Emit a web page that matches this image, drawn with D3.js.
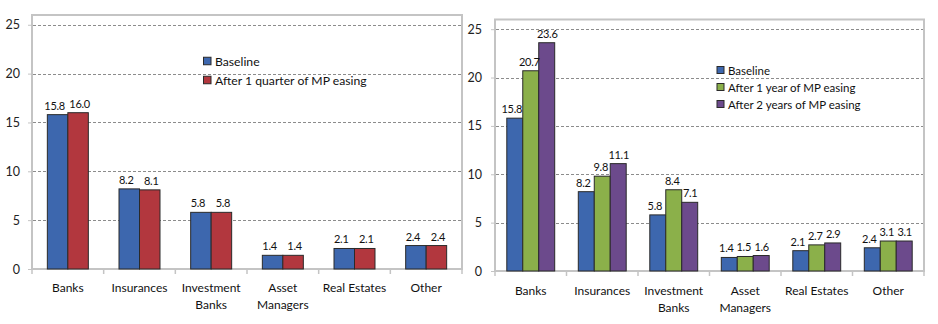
<!DOCTYPE html>
<html>
<head>
<meta charset="utf-8">
<script src="https://cdn.jsdelivr.net/npm/d3@7"></script>
<style>
  html, body { margin: 0; padding: 0; background: #fff; }
  svg { display: block; font-family: Lato, "Liberation Sans", sans-serif; }
</style>
</head>
<body>
<svg id="chart" width="938" height="324"></svg>
<script>
// ---- data ----
const categories = ["Banks", "Insurances", "Investment Banks", "Asset Managers", "Real Estates", "Other"];
const categoryLines = [["Banks"], ["Insurances"], ["Investment", "Banks"], ["Asset", "Managers"], ["Real Estates"], ["Other"]];
const yTicks = [0, 5, 10, 15, 20, 25];

const leftSeriesNames = ["Baseline", "After 1 quarter of MP easing"];
const leftBaseline = [15.8, 8.2, 5.8, 1.4, 2.1, 2.4];
const leftAfter1Quarter = [16.0, 8.1, 5.8, 1.4, 2.1, 2.4];

const rightSeriesNames = ["Baseline", "After 1 year of MP easing", "After 2 years of MP easing"];
const rightBaseline = [15.8, 8.2, 5.8, 1.4, 2.1, 2.4];
const rightAfter1Year = [20.7, 9.8, 8.4, 1.5, 2.7, 3.1];
const rightAfter2Years = [23.6, 11.1, 7.1, 1.6, 2.9, 3.1];

const colors = { blue: "#3D67AE", red: "#B2373E", green: "#8BB04A", purple: "#6C4A8C" };

const svg = d3.select("#chart");

function drawPanel(cfg) {
  const g = svg.append("g");
  const x = d3.scaleBand().domain(categories).range([cfg.x0, cfg.x1]).padding(0);
  const y = d3.scaleLinear().domain([0, 26]).range([cfg.y0, cfg.yTop]);
  const groupW = x.bandwidth() * cfg.groupFrac;
  const xs = d3.scaleBand().domain(d3.range(cfg.series.length)).range([-groupW / 2, groupW / 2]).padding(0);

  // frame
  g.append("rect")
    .attr("x", cfg.x0).attr("y", cfg.yTop)
    .attr("width", cfg.x1 - cfg.x0).attr("height", cfg.y0 - cfg.yTop)
    .attr("fill", "none").attr("stroke", "#c4c4c4").attr("stroke-width", 2);

  // gridlines
  g.selectAll(".grid").data(yTicks.filter(t => t > 0)).join("line")
    .attr("x1", cfg.x0 + 1).attr("x2", cfg.x1 - 1)
    .attr("y1", d => Math.round(y(d)) + 0.5).attr("y2", d => Math.round(y(d)) + 0.5)
    .attr("stroke", "#8c8c8c").attr("stroke-dasharray", "3,2").attr("stroke-width", 1);

  // y axis
  const yAxis = d3.axisLeft(y).tickValues(yTicks).tickSize(4).tickPadding(cfg.tickPad);
  const ya = g.append("g").attr("transform", `translate(${cfg.x0},0)`).call(yAxis);
  ya.select(".domain").remove();
  ya.selectAll(".tick line").attr("stroke", "#c4c4c4");
  ya.selectAll(".tick text").attr("fill", "#222").style("font-size", cfg.tickFont + "px").style("font-family", "Lato, sans-serif");

  // category tick marks
  const bounds = categories.map(c => x(c)).concat([cfg.x1]);
  g.selectAll(".ctick").data(bounds).join("line")
    .attr("x1", d => d).attr("x2", d => d)
    .attr("y1", cfg.y0).attr("y2", cfg.y0 + 5)
    .attr("stroke", "#c4c4c4").attr("stroke-width", 1.5);

  // bars
  cfg.series.forEach((vals, si) => {
    g.selectAll(".bar" + si).data(vals).join("rect")
      .attr("x", (d, i) => x(categories[i]) + x.bandwidth() / 2 + xs(si))
      .attr("y", d => y(d))
      .attr("width", xs.bandwidth())
      .attr("height", d => y(0) - y(d))
      .attr("fill", cfg.colors[si])
      .attr("stroke", "#2a2a2a").attr("stroke-width", 1);
  });
  cfg.series.forEach((vals, si) => {
    g.selectAll(".lab" + si).data(vals).join("text")
      .attr("x", (d, i) => x(categories[i]) + x.bandwidth() / 2 + xs(si) + xs.bandwidth() / 2 + cfg.labelDx[si])
      .attr("y", d => y(d) - 5)
      .attr("text-anchor", "middle")
      .attr("fill", "#111")
      .style("font-size", cfg.labelFont + "px")
      .style("letter-spacing", "-0.3px")
      .text(d => d.toFixed(1));
  });

  // category labels
  categories.forEach((c, i) => {
    const t = g.append("text")
      .attr("x", x(c) + x.bandwidth() / 2)
      .attr("y", cfg.catY)
      .attr("text-anchor", "middle").attr("fill", "#111")
      .style("font-size", cfg.catFont + "px");
    categoryLines[i].forEach((line, li) => {
      t.append("tspan").attr("x", x(c) + x.bandwidth() / 2).attr("dy", li === 0 ? 0 : cfg.catLine).text(line);
    });
  });

  // legend
  const lg = g.append("g").attr("transform", `translate(${cfg.legX},${cfg.legY})`);
  cfg.names.forEach((n, i) => {
    lg.append("rect").attr("x", 0).attr("y", i * cfg.legStep - cfg.legSq / 2)
      .attr("width", cfg.legSq).attr("height", cfg.legSq)
      .attr("fill", cfg.colors[i]).attr("stroke", "#2a2a2a").attr("stroke-width", 1);
    lg.append("text").attr("x", cfg.legSq + 4).attr("y", i * cfg.legStep + 4.5)
      .attr("fill", "#111").style("font-size", cfg.legFont + "px").text(n);
  });
}

drawPanel({
  x0: 32, x1: 462, y0: 269, yTop: 15, groupFrac: 0.572, tickPad: 8, tickFont: 12.5,
  series: [leftBaseline, leftAfter1Quarter], names: leftSeriesNames,
  colors: [colors.blue, colors.red], labelFont: 11, labelDx: [-3, 1.5],
  catFont: 12, catY: 292, catLine: 17,
  legX: 203.5, legY: 61, legStep: 19, legSq: 7.5, legFont: 12.2
});

drawPanel({
  x0: 495, x1: 924, y0: 271, yTop: 19.5, groupFrac: 0.67, tickPad: 9, tickFont: 12.5,
  series: [rightBaseline, rightAfter1Year, rightAfter2Years], names: rightSeriesNames,
  colors: [colors.blue, colors.green, colors.purple], labelFont: 11, labelDx: [-3, -1.5, 0.5],
  catFont: 12, catY: 295, catLine: 17,
  legX: 717, legY: 70, legStep: 17, legSq: 7, legFont: 11.5
});
</script>
</body>
</html>
